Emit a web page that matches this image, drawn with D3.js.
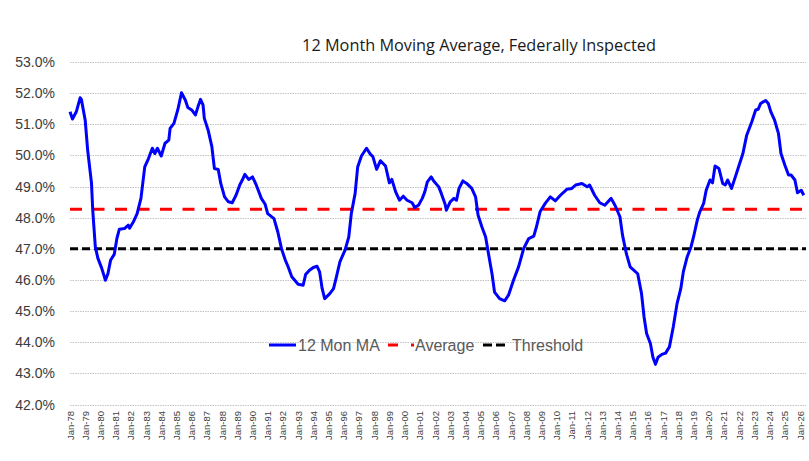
<!DOCTYPE html>
<html>
<head>
<meta charset="utf-8">
<script src="https://cdn.jsdelivr.net/npm/d3@7"></script>
<style>
  body { margin: 0; background: #fff; }
  svg { display: block; font-family: "Liberation Sans", Arial, sans-serif; }
</style>
</head>
<body>
<div id="chart"></div>
<script>
// title and series names
const chartTitle = "12 Month Moving Average, Federally Inspected";
const seriesNames = ["12 Mon MA", "Average", "Threshold"];

// y axis ticks (percent)
const yTicks = [42, 43, 44, 45, 46, 47, 48, 49, 50, 51, 52, 53];

// x axis labels, one per January
const xYears = d3.range(1978, 2027);

// reference lines
const averageValue = 48.27;
const thresholdValue = 47.0;

// 12 month moving average
const maMonths = [
  "1978-01","1978-03","1978-06","1978-09","1978-10","1979-01","1979-03","1979-06","1979-07","1979-09",
  "1979-11","1980-02","1980-05","1980-07","1980-09","1980-12","1981-02","1981-04","1981-08","1981-11",
  "1981-12","1982-03","1982-06","1982-09","1982-12","1983-03","1983-06","1983-08","1983-10","1984-01",
  "1984-04","1984-07","1984-08","1984-11","1985-02","1985-05","1985-08","1985-10","1986-01","1986-04",
  "1986-06","1986-08","1986-10","1986-11","1987-02","1987-05","1987-07","1987-10","1987-12","1988-03",
  "1988-06","1988-09","1988-12","1989-03","1989-05","1989-07","1989-10","1990-01","1990-04","1990-08",
  "1990-11","1991-01","1991-06","1991-09","1991-12","1992-03","1992-05","1992-08","1993-01","1993-05",
  "1993-07","1993-10","1994-01","1994-04","1994-06","1994-08","1994-10","1995-02","1995-05","1995-07",
  "1995-10","1996-02","1996-05","1996-07","1996-10","1996-12","1997-03","1997-07","1997-10","1997-12",
  "1998-03","1998-06","1998-10","1999-01","1999-03","1999-06","1999-09","1999-12","2000-03","2000-07",
  "2000-09","2000-12","2001-03","2001-05","2001-07","2001-10","2001-12","2002-04","2002-06","2002-09",
  "2002-10","2003-01","2003-04","2003-06","2003-08","2003-11","2004-02","2004-06","2004-09","2004-11",
  "2005-02","2005-05","2005-07","2005-10","2005-12","2006-04","2006-08","2006-11","2007-03","2007-07",
  "2007-11","2008-03","2008-07","2008-09","2008-12","2009-04","2009-08","2009-12","2010-04","2010-09",
  "2011-01","2011-04","2011-09","2012-01","2012-03","2012-07","2012-11","2013-03","2013-08","2013-11",
  "2014-03","2014-05","2014-08","2014-11","2015-02","2015-05","2015-08","2015-10","2015-12","2016-03",
  "2016-05","2016-07","2016-09","2016-12","2017-03","2017-06","2017-09","2017-12","2018-03","2018-05",
  "2018-08","2018-11","2019-01","2019-04","2019-06","2019-09","2019-11","2020-02","2020-04","2020-06",
  "2020-09","2020-12","2021-02","2021-04","2021-07","2021-10","2022-01","2022-04","2022-07","2022-11",
  "2023-02","2023-04","2023-06","2023-08","2023-10","2023-12","2024-02","2024-05","2024-08","2024-10",
  "2025-01","2025-04","2025-06","2025-09","2025-11","2026-02","2026-04"
];
const maValues = [
  51.40,51.17,51.40,51.85,51.80,51.13,50.17,49.11,48.24,47.06,
  46.70,46.38,45.99,46.21,46.63,46.83,47.34,47.63,47.65,47.76,
  47.66,47.86,48.13,48.62,49.63,49.90,50.23,50.06,50.23,49.98,
  50.39,50.49,50.87,51.03,51.46,52.01,51.78,51.54,51.46,51.30,
  51.56,51.80,51.62,51.19,50.81,50.28,49.58,49.55,49.10,48.67,
  48.51,48.48,48.72,49.05,49.21,49.39,49.23,49.31,49.05,48.62,
  48.43,48.13,47.97,47.54,46.99,46.63,46.44,46.10,45.86,45.83,
  46.18,46.31,46.40,46.44,46.26,45.72,45.40,45.56,45.72,46.05,
  46.58,46.96,47.38,48.13,48.78,49.63,49.98,50.23,50.04,49.96,
  49.55,49.83,49.66,49.12,49.23,48.83,48.56,48.69,48.56,48.48,
  48.33,48.40,48.62,48.83,49.15,49.31,49.18,48.99,48.78,48.43,
  48.24,48.51,48.62,48.56,48.94,49.18,49.10,48.94,48.67,48.08,
  47.70,47.38,46.90,46.20,45.61,45.40,45.33,45.51,45.99,46.42,
  47.01,47.33,47.41,47.70,48.20,48.46,48.67,48.54,48.72,48.91,
  48.94,49.05,49.10,48.99,49.05,48.72,48.48,48.40,48.62,48.40,
  48.03,47.44,46.85,46.42,46.31,46.20,45.56,44.81,44.28,43.96,
  43.52,43.29,43.52,43.61,43.65,43.85,44.49,45.24,45.72,46.26,
  46.74,47.06,47.38,47.92,48.19,48.46,48.88,49.21,49.12,49.66,
  49.58,49.10,49.05,49.21,48.94,49.31,49.69,50.06,50.65,51.08,
  51.46,51.48,51.67,51.72,51.76,51.67,51.40,51.13,50.71,50.06,
  49.69,49.37,49.37,49.21,48.80,48.88,48.72
];

const width = 809, height = 461;
const parseMonth = d3.timeParse("%Y-%m");
const series = maMonths.map((m, i) => ({date: parseMonth(m), value: maValues[i]}));

const svg = d3.select("#chart").append("svg")
  .attr("width", width)
  .attr("height", height);

const x = d3.scaleTime()
  .domain([new Date(1978, 0, 1), new Date(2026, 0, 1)])
  .range([70, 800]);
const plotLeft = 70, plotRight = 806;

const y = d3.scaleLinear()
  .domain([42, 53])
  .range([404.5, 62]);

// title
svg.append("text")
  .attr("x", 479)
  .attr("y", 51)
  .attr("text-anchor", "middle")
  .style("font-family", "'Open Sans', sans-serif")
  .style("font-size", "16.3px")
  .style("fill", "#1a1a1a")
  .text(chartTitle);

// gridlines
svg.append("g")
  .selectAll("line")
  .data(yTicks)
  .enter().append("line")
  .attr("x1", plotLeft)
  .attr("x2", plotRight)
  .attr("y1", d => Math.round(y(d)) + 0.5)
  .attr("y2", d => Math.round(y(d)) + 0.5)
  .attr("stroke", "#c4c4c4")
  .attr("stroke-width", 1)
  .attr("stroke-dasharray", "1.5,1");

// y axis labels
svg.append("g")
  .selectAll("text")
  .data(yTicks)
  .enter().append("text")
  .attr("x", 55)
  .attr("y", d => y(d) + 5)
  .attr("text-anchor", "end")
  .style("font-size", "14px")
  .style("fill", "#3b3b3b")
  .text(d => d.toFixed(1) + "%");

// x axis labels, rotated
const fmt = d3.timeFormat("%b-%y");
svg.append("g")
  .selectAll("text")
  .data(xYears.map(yr => new Date(yr, 0, 1)))
  .enter().append("text")
  .attr("transform", d => `translate(${x(d) + 3.5},411) rotate(-90)`)
  .attr("text-anchor", "end")
  .style("font-size", "9.5px")
  .style("fill", "#404040")
  .text(d => fmt(d));

// reference lines
svg.append("line")
  .attr("x1", plotLeft).attr("x2", plotRight)
  .attr("y1", y(thresholdValue)).attr("y2", y(thresholdValue))
  .attr("stroke", "#000")
  .attr("stroke-width", 3)
  .attr("stroke-dasharray", "8,4");

svg.append("line")
  .attr("x1", plotLeft).attr("x2", plotRight)
  .attr("y1", y(averageValue)).attr("y2", y(averageValue))
  .attr("stroke", "#ff0000")
  .attr("stroke-width", 3)
  .attr("stroke-dasharray", "12,10.5");

// moving average line
const line = d3.line()
  .x(d => x(d.date))
  .y(d => y(d.value))
  .curve(d3.curveLinear);

svg.append("path")
  .datum(series)
  .attr("d", line)
  .attr("fill", "none")
  .attr("stroke", "#0000ff")
  .attr("stroke-width", 3)
  .attr("stroke-linejoin", "round");

// legend
const legendY = 345;
const legendItems = [
  {name: seriesNames[0], x1: 269, x2: 296, color: "#0000ff", dash: null, tx: 298},
  {name: seriesNames[1], x1: 388, x2: 414, color: "#ff0000", dash: "10,13", tx: 415},
  {name: seriesNames[2], x1: 483, x2: 506, color: "#000", dash: "9,4", tx: 512}
];
const legend = svg.append("g");
legendItems.forEach(item => {
  legend.append("line")
    .attr("x1", item.x1).attr("x2", item.x2)
    .attr("y1", legendY).attr("y2", legendY)
    .attr("stroke", item.color)
    .attr("stroke-width", 3)
    .attr("stroke-dasharray", item.dash);
  legend.append("text")
    .attr("x", item.tx)
    .attr("y", legendY + 5.5)
    .style("font-size", "16px")
    .style("fill", "#595959")
    .text(item.name);
});
</script>
</body>
</html>
